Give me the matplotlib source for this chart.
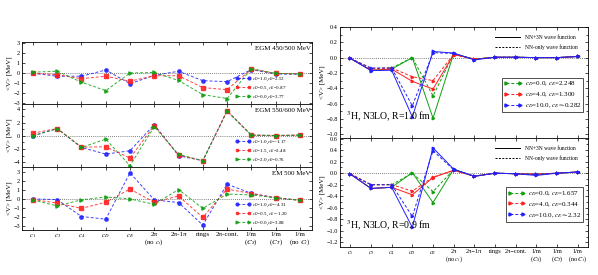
import matplotlib
matplotlib.use("Agg")
import matplotlib.pyplot as plt
import numpy as np
from matplotlib.lines import Line2D
from matplotlib.ticker import MultipleLocator

plt.rcParams['font.family'] = ['Liberation Serif', 'DejaVu Serif']
plt.rcParams['mathtext.fontset'] = 'stix'

# ---- categories ----
left_labels = ['$c_1$', '$c_3$', '$c_4$', '$c_D$', '$c_E$', '2π\n(no $c_i$)', '2π-1π', 'rings',
               '2π-cont.', '1/m\n($C_S$)', '1/m\n($C_T$)', '1/m\n(no $C_i$)']
right_labels = ['$c_1$', '$c_3$', '$c_4$', '$c_D$', '$c_E$', '2π\n(no $c_i$)', '2π−1π', 'rings',
                '2π−cont.', '1/m\n($C_S$)', '1/m\n($C_T$)', '1/m\n(no $C_i$)']

# ---- left panel data ----
egm450_blue = [-0.05, -0.35, -0.35, 0.28, -1.1, -0.26, 0.15, -0.8, -0.9, 0.32, -0.13, -0.15]
egm450_red = [-0.05, -0.2, -0.6, -0.35, -0.85, -0.3, -0.3, -1.5, -1.7, 0.35, -0.06, -0.12]
egm450_green = [0.06, 0.15, -0.95, -1.8, -0.03, 0.03, -0.78, -2.2, -2.6, 0.42, -0.06, -0.12]
egm450_names = ['$c_D$=1.0,$c_E$=2.52', '$c_D$=0.5, $c_E$=0.87', '$c_D$=0.0,$c_E$=3.77']

egm550_blue = [0.0, 1.1, -1.75, -2.75, -2.25, 1.7, -3.0, -3.75, 3.75, 0.1, 0.05, 0.1]
egm550_red = [0.4, 1.1, -1.7, -1.65, -3.35, 1.55, -2.9, -3.75, 3.75, 0.1, 0.05, 0.1]
egm550_green = [0.0, 1.1, -1.75, -0.5, -4.5, 1.4, -2.8, -3.75, 3.75, 0.1, 0.05, 0.1]
egm550_names = ['$c_D$=1.0,$c_E$=-1.17', '$c_D$=1.5, $c_E$=2.48', '$c_D$=2.0,$c_E$=0.76']

em500_blue = [0.0, -0.07, -1.95, -2.25, 2.9, -0.1, -0.4, -2.9, 1.63, 0.63, 0.13, -0.15]
em500_red = [-0.07, -0.45, -1.05, -0.37, 1.1, -0.37, 0.33, -2.05, 1.1, 0.6, 0.13, -0.15]
em500_green = [-0.1, -0.78, -0.1, 0.22, 0.0, -0.6, 1.05, -1.05, 0.55, 0.45, 0.13, -0.15]
em500_names = ['$c_D$=1.0,$c_E$=-4.31', '$c_D$=0.5, $c_E$=-1.20', '$c_D$=0.0,$c_E$=3.88']

# ---- right panel data (full = NN+3N wave function, nn = NN-only wave function) ----
r10_green_full = [-0.01, -0.165, -0.15, 0.0, -0.79, 0.05, -0.02, 0.005, 0.005, 0.0, 0.0, 0.015]
r10_green_nn = [-0.01, -0.145, -0.135, 0.0, -0.5, 0.05, -0.02, 0.005, 0.005, 0.0, 0.0, 0.015]
r10_red_full = [-0.01, -0.165, -0.15, -0.31, -0.41, 0.04, -0.02, 0.005, 0.005, 0.0, 0.0, 0.015]
r10_red_nn = [-0.01, -0.145, -0.135, -0.25, -0.3, 0.04, -0.02, 0.005, 0.005, 0.0, 0.0, 0.015]
r10_blue_full = [-0.01, -0.17, -0.165, -0.775, 0.08, 0.06, -0.03, 0.005, 0.005, 0.0, 0.0, 0.015]
r10_blue_nn = [-0.01, -0.135, -0.135, -0.63, 0.065, 0.055, -0.025, 0.005, 0.005, 0.0, 0.0, 0.015]
r10_names = ['$c_D$=0.0, $c_E$=2.248', '$c_D$=4.0, $c_E$=1.300', '$c_D$=10.0, $c_E$=-0.282']

r09_green_full = [-0.01, -0.265, -0.245, 0.01, -0.51, 0.07, -0.055, 0.0, -0.01, -0.02, 0.0, 0.02]
r09_green_nn = [-0.01, -0.2, -0.2, 0.0, -0.32, 0.06, -0.05, 0.0, -0.01, -0.015, 0.0, 0.02]
r09_red_full = [-0.01, -0.265, -0.245, -0.375, -0.075, 0.05, -0.055, 0.0, -0.01, -0.02, 0.0, 0.02]
r09_red_nn = [-0.01, -0.2, -0.2, -0.31, -0.07, 0.05, -0.05, 0.0, -0.01, -0.015, 0.0, 0.02]
r09_blue_full = [-0.02, -0.265, -0.245, -0.94, 0.44, 0.07, -0.055, 0.0, -0.01, -0.04, 0.0, 0.02]
r09_blue_nn = [-0.02, -0.2, -0.2, -0.75, 0.39, 0.06, -0.05, 0.0, -0.01, -0.02, 0.0, 0.02]
r09_names = ['$c_D$=0.0, $c_E$=1.657', '$c_D$=4.0, $c_E$=0.344', '$c_D$=10.0, $c_E$=-2.32']

BLUE, RED, GREEN = '#2020ff', '#ff2020', '#10a010'

W, H = 598, 275
fig = plt.figure(figsize=(W / 100, H / 100), dpi=100)


def ax_px(x0, y0, x1, y1):
    return fig.add_axes([x0 / W, 1 - y1 / H, (x1 - x0) / W, (y1 - y0) / H])


def style(ax, fs=4.5):
    ax.tick_params(direction='in', which='both', top=True, right=True, labelsize=fs,
                   length=2.5, width=0.5, pad=1.5)
    ax.tick_params(which='minor', length=1.5)
    for s in ax.spines.values():
        s.set_linewidth(0.6)
    ax.axhline(0, color='#555555', ls=(0, (1, 1.5)), lw=0.6, zorder=0)


x = np.arange(12)

# ---------------- left panel ----------------
left_rows = [
    (42, 104, (egm450_blue, egm450_red, egm450_green), egm450_names, 'EGM 450/500 MeV', (-3.15, 3.1), 1, None),
    (104, 167, (egm550_blue, egm550_red, egm550_green), egm550_names, 'EGM 550/600 MeV', (-4.7, 4.8), 2, 1),
    (167, 230, (em500_blue, em500_red, em500_green), em500_names, 'EM 500 MeV', (-3.45, 3.55), 1, None),
]
for i, (y0, y1, series, names, title, ylim, major, minor) in enumerate(left_rows):
    ax = ax_px(22, y0, 312, y1)
    style(ax)
    handles = []
    for vals, col, mk, nm in zip(series, (BLUE, RED, GREEN), ('o', 's', '>'), names):
        ax.plot(x, vals, ls=(0, (3, 2)), color=col, lw=0.7, marker=mk, ms=2.4, alpha=0.85)
        handles.append(Line2D([], [], ls=(0, (3, 2)), color=col, lw=0.7, marker=mk, ms=2.0,
                              alpha=0.85, label=nm))
    ax.set_xlim(-0.45, 11.5)
    ax.set_ylim(*ylim)
    ax.yaxis.set_major_locator(MultipleLocator(major))
    if minor:
        ax.yaxis.set_minor_locator(MultipleLocator(minor))
    ax.set_xticks(x)
    if i < 2:
        ax.set_xticklabels([])
    else:
        ax.set_xticklabels(left_labels, fontsize=5, linespacing=1.0)
    ax.set_ylabel('<V> [MeV]', fontsize=5, labelpad=1)
    ax.text(0.995, 0.93, title, transform=ax.transAxes, ha='right', va='top', fontsize=5)
    ax.legend(handles=handles, loc='upper left', bbox_to_anchor=(0.725, 0.5), fontsize=3.6,
              frameon=False, numpoints=2, handlelength=3.0, labelspacing=0.35, borderpad=0.1,
              handletextpad=0.4)

# ---------------- right panel ----------------
right_rows = [
    (27, 138, [(r10_green_full, r10_green_nn), (r10_red_full, r10_red_nn), (r10_blue_full, r10_blue_nn)],
     r10_names, '$^3$H, N3LO, R=1.0 fm', (-1.05, 0.4)),
    (138, 247, [(r09_green_full, r09_green_nn), (r09_red_full, r09_red_nn), (r09_blue_full, r09_blue_nn)],
     r09_names, '$^3$H, N3LO, R=0.9 fm', (-1.28, 0.61)),
]
for i, (y0, y1, series, names, note, ylim) in enumerate(right_rows):
    ax = ax_px(340, y0, 588, y1)
    style(ax, fs=4.5)
    handles = []
    for (full, nn), col, nm in zip(series, (GREEN, RED, BLUE), names):
        ax.plot(x, full, ls='-', color=col, lw=0.7, marker='>', ms=1.8)
        ax.plot(x, nn, ls=(0, (3, 2)), color=col, lw=0.7, marker='>', ms=1.8)
        handles.append(Line2D([], [], ls=(0, (3, 2)), color=col, lw=0.7, marker='>', ms=2.2, label=nm))
    ax.set_xlim(-0.5, 11.5)
    ax.set_ylim(*ylim)
    ax.yaxis.set_major_locator(MultipleLocator(0.2))
    ax.yaxis.set_minor_locator(MultipleLocator(0.1))
    ax.set_xticks(x)
    if i == 0:
        ax.set_xticklabels([])
    else:
        ax.set_xticklabels(right_labels, fontsize=4.5, linespacing=1.0)
    ax.set_ylabel('<V> [MeV]', fontsize=5, labelpad=1)
    ax.text(0.025, 0.13, note, transform=ax.transAxes, ha='left', va='bottom', fontsize=7)
    style_handles = [Line2D([], [], color='k', lw=0.7, ls='-', label='NN+3N wave function'),
                     Line2D([], [], color='k', lw=0.7, ls=(0, (2, 1.5)), label='NN-only wave function')]
    leg1 = ax.legend(handles=style_handles, loc='upper right', fontsize=4, frameon=False,
                     handlelength=4.5, labelspacing=0.8, bbox_to_anchor=(0.98, 0.97), handletextpad=1.0)
    ax.add_artist(leg1)
    leg2 = ax.legend(handles=handles, loc='lower right', bbox_to_anchor=(0.995, 0.2), fontsize=5,
                     frameon=True, fancybox=False, numpoints=2, handlelength=2.5, labelspacing=0.3,
                     borderpad=0.3, handletextpad=0.4)
    leg2.get_frame().set_edgecolor('black')
    leg2.get_frame().set_linewidth(0.6)

fig.savefig('out.png', dpi=100)
